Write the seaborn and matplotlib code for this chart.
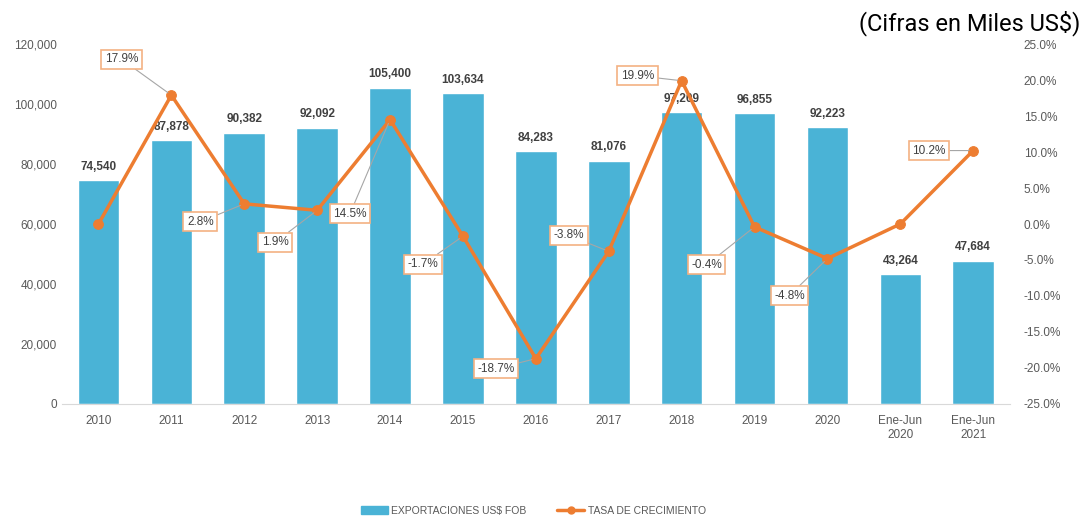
import numpy as np
import pandas as pd
import matplotlib
matplotlib.use("Agg")
import matplotlib.pyplot as plt
import seaborn as sns
from matplotlib.lines import Line2D
from matplotlib.patches import Patch

# Datos del gráfico
categorias = ["2010", "2011", "2012", "2013", "2014", "2015", "2016", "2017",
              "2018", "2019", "2020", "Ene-Jun\n2020", "Ene-Jun\n2021"]
exportaciones = [74540, 87878, 90382, 92092, 105400, 103634, 84283, 81076,
                 97209, 96855, 92223, 43264, 47684]
crecimiento = [0.0, 17.9, 2.8, 1.9, 14.5, -1.7, -18.7, -3.8, 19.9, -0.4, -4.8, 0.0, 10.2]
# posiciones de las etiquetas de crecimiento (desplazamiento en pixeles)
etiquetas_crec = {1: (-50, 36), 2: (-44, -18), 3: (-42, -32), 4: (-40, -94),
                  5: (-40, -28), 6: (-40, -10), 7: (-40, 16), 8: (-44, 5),
                  9: (-48, -38), 10: (-38, -37), 12: (-44, 0)}

sns.set_style("white")
plt.rcParams["font.family"] = ["Liberation Sans", "DejaVu Sans"]

azul = "#4AB3D6"
naranja = "#ED7D31"
gris = "#595959"

df = pd.DataFrame({"periodo": categorias, "exportaciones": exportaciones})

fig = plt.figure(figsize=(10.88, 5.19), dpi=100)
ax = fig.add_axes([0.057, 0.2216, 0.871, 0.6936])

sns.barplot(data=df, x="periodo", y="exportaciones", color=azul, width=0.57,
            saturation=1, ax=ax)
ax.set_xlim(-0.5, len(categorias) - 0.5)
ax.set_ylim(0, 120000)
ax.set_yticks(range(0, 120001, 20000))
ax.yaxis.set_major_formatter(matplotlib.ticker.FuncFormatter(lambda v, p: f"{int(v):,}"))
ax.set_xlabel("")
ax.set_ylabel("")
ax.tick_params(axis="both", labelsize=8.5, colors=gris, length=0)
ax.tick_params(axis="x", pad=8)
for s in ["top", "right", "left"]:
    ax.spines[s].set_visible(False)
ax.spines["bottom"].set_color("#D9D9D9")

for i, v in enumerate(exportaciones):
    ax.text(i, v + 2500, f"{v:,}", ha="center", va="bottom", fontsize=8.5,
            fontweight="bold", color="#404040")

ax2 = ax.twinx()
x_pos = np.arange(len(categorias))
sns.lineplot(x=x_pos, y=crecimiento, color=naranja, linewidth=2.5, marker="o",
             markersize=7, markeredgecolor=naranja, ax=ax2)
ax2.set_ylim(-25, 25)
ax2.set_yticks(np.arange(-25, 25.1, 5))
ax2.yaxis.set_major_formatter(matplotlib.ticker.FuncFormatter(lambda v, p: f"{v:.1f}%"))
ax2.tick_params(axis="y", labelsize=8.5, colors=gris, length=0, pad=10)
for s in ["top", "right", "left", "bottom"]:
    ax2.spines[s].set_visible(False)

for i, (dx, dy) in etiquetas_crec.items():
    ax2.annotate(f"{crecimiento[i]:.1f}%", xy=(i, crecimiento[i]),
                 xytext=(dx, dy), textcoords="offset pixels",
                 ha="center", va="center", fontsize=8.5, color="#404040",
                 bbox=dict(boxstyle="square,pad=0.3", fc="white", ec="#F4B183", lw=1.2),
                 arrowprops=dict(arrowstyle="-", color="#A6A6A6", lw=0.8,
                                 shrinkA=0, shrinkB=3))

fig.text(0.993, 0.955, "(Cifras en Miles US$)", ha="right", va="center",
         fontsize=17, family=["Roboto", "DejaVu Sans"], color="black")

handles = [Patch(facecolor=azul, edgecolor=azul),
           Line2D([0], [0], color=naranja, lw=2.5, marker="o", markersize=5)]
fig.legend(handles, ["EXPORTACIONES US$ FOB", "TASA DE CRECIMIENTO"],
           loc="center", bbox_to_anchor=(0.49, 0.016), ncol=2, frameon=False,
           fontsize=7.5, labelcolor=gris, handlelength=2.6, columnspacing=3,
           handletextpad=0.3)

fig.savefig("out.png", dpi=100)
